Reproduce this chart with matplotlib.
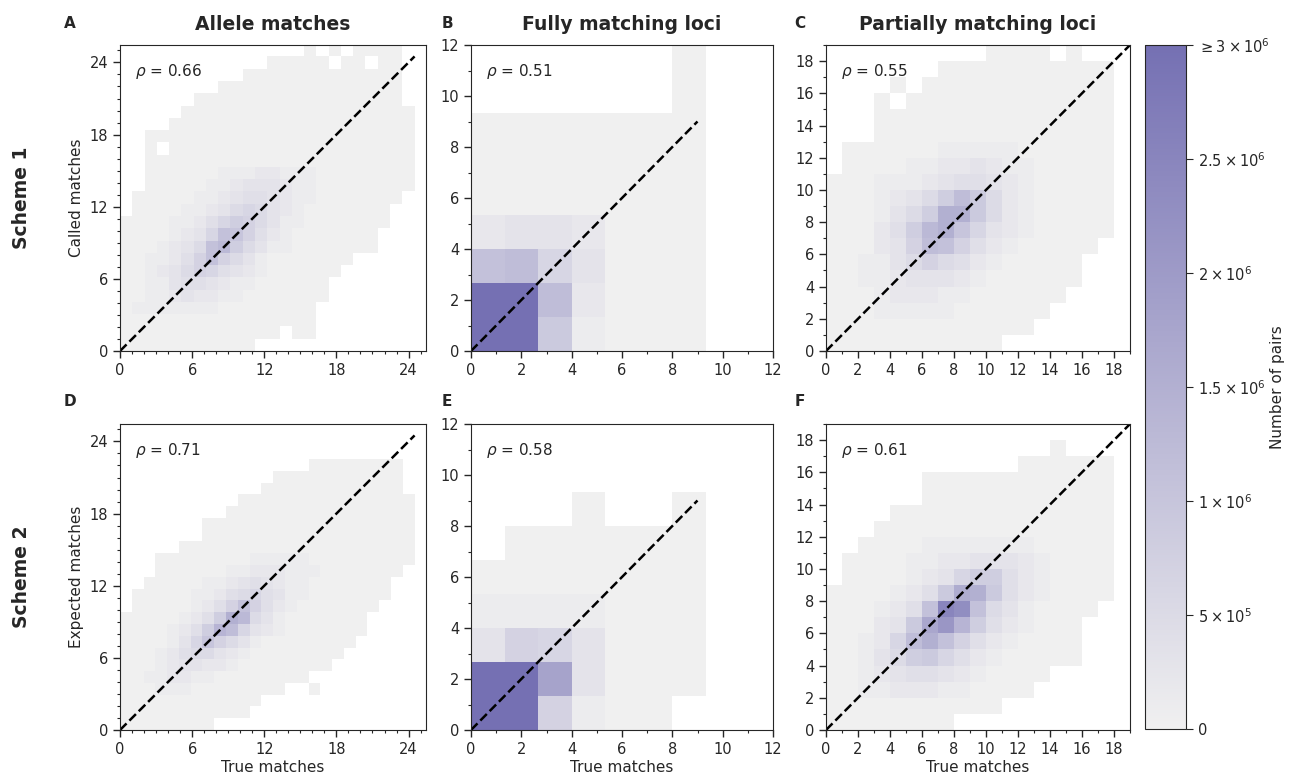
import numpy as np
import matplotlib
matplotlib.use("Agg")
import matplotlib.pyplot as plt
from matplotlib.colors import LinearSegmentedColormap, Normalize
from matplotlib.cm import ScalarMappable
from matplotlib.ticker import MultipleLocator

# cell codes (top row first): '.' = no pairs, '0' = ~0,
# '1'-'9' = n x 1e5, 'a'-'z' = (10 + n) x 1e5  (anything >= 'u' saturates)
allele_s1 = [
    "...............0.0.0000.",
    "............00000.00.00.",
    "..........0000000000000.",
    "........000000000000000.",
    "......00000000000000000.",
    ".....0000000000000000000",
    "....00000000000000000000",
    "..0000000000000000000000",
    "..0.00000000000000000000",
    "..0000000000000000000000",
    "..0000001112211100000000",
    "..0000011233321100000000",
    ".0000011234432110000000.",
    ".000011235653210000000..",
    "0000112468753110000000..",
    "00001236ba74210000000...",
    "0001235bd853110000000...",
    "0011247b75310000000.....",
    "001235764321000000......",
    "00113443211000000.......",
    "00112322110000000.......",
    "0111111100000000........",
    "0000000000000000........",
    "0000000000000.00........",
    "00000000000.............",
]

allele_s2 = [
    "................00000000.",
    ".............00000000000.",
    "............000000000000.",
    "..........000000000000000",
    ".........0000000000000000",
    ".......000000000000000000",
    ".......000000000000000000",
    ".....00000000000000000000",
    "...0000000011111000000000",
    "...000000112221110000000.",
    "..000001123432110000000..",
    ".0000011245643110000000..",
    ".000001247b74210000000...",
    "000001248fd5310000000....",
    "00001248ec63210000000....",
    "0000136a753100000000.....",
    "0001245532100000000......",
    "000123322100000000.......",
    "0011221100000000.........",
    "00011100000000..0........",
    "000000000000.............",
    "00000000000..............",
    "00000000.................",
]

full_s1 = [
    "......0",
    "......0",
    "0000000",
    "0000000",
    "0000000",
    "2332000",
    "bc63000",
    "zzc2000",
    "zz91000",
]

full_s2 = [
    ".......",
    ".......",
    "...0..0",
    ".000000",
    "0000000",
    "1111000",
    "3763000",
    "zzi3000",
    "zz7100.",
]

partial_s1 = [
    "..........0000.0..",
    ".......00000000000",
    "....0.000000000000",
    "...0.0000000000000",
    "...000000000000000",
    "...000000000000000",
    ".00000011111000000",
    ".00001122321100000",
    "000111234432100000",
    "00012358c952100000",
    "0001358ff952100000",
    "000248dfa632100000",
    "000237cb742100000.",
    "0011357542100000..",
    "0011233321000000..",
    "000122211000000...",
    "00011111000000....",
    "0000000000000.....",
    "00000000000.......",
]

partial_s2 = [
    "..................",
    "..............0...",
    "............000000",
    "......000000000000",
    "......000000000000",
    "....00000000000000",
    "...000000000000000",
    "..0000111111100000",
    ".00001122333210000",
    ".00001236884210000",
    "00001249gf94210000",
    "000124bpnb5310000.",
    "000239hle8421000..",
    "00126cfb74210000..",
    "0013589642100000..",
    "00123443210000....",
    "0011222110000.....",
    "00000000000.......",
    "00000000..........",
]

rho = [0.66, 0.51, 0.55, 0.71, 0.58, 0.61]
col_titles = ["Allele matches", "Fully matching loci", "Partially matching loci"]
row_titles = ["Scheme 1", "Scheme 2"]
y_labels = ["Called matches", "Expected matches"]
panel_letters = ["A", "B", "C", "D", "E", "F"]
cbar_ticks = [0, 5e5, 1e6, 1.5e6, 2e6, 2.5e6, 3e6]
cbar_ticklabels = ["0", r"$5\times10^{5}$", r"$1\times10^{6}$", r"$1.5\times10^{6}$",
                   r"$2\times10^{6}$", r"$2.5\times10^{6}$", r"$\geq 3\times10^{6}$"]


def decode(rows):
    width = max(len(r) for r in rows)
    grid = []
    for r in rows[::-1]:
        r = r.ljust(width, ".")
        vals = []
        for ch in r:
            if ch == ".":
                vals.append(np.nan)
            elif ch.isdigit():
                vals.append(int(ch) * 1e5)
            else:
                vals.append((10 + ord(ch) - ord("a")) * 1e5)
        grid.append(vals)
    return np.ma.masked_invalid(np.array(grid))


plt.rcParams["font.family"] = "DejaVu Sans"
plt.rcParams["text.color"] = "#262626"
plt.rcParams["axes.labelcolor"] = "#262626"
plt.rcParams["xtick.color"] = "#262626"
plt.rcParams["ytick.color"] = "#262626"
plt.rcParams["axes.edgecolor"] = "#262626"

cmap = LinearSegmentedColormap.from_list("pairs", ["#f0f0f0", "#7570b3"])
norm = Normalize(vmin=0, vmax=3e6)

W, H = 1303, 782
fig = plt.figure(figsize=(W / 100, H / 100), dpi=100)

col_left = [120, 471, 826]
col_width = [306, 302, 304]
row_top = [45, 424]
ax_h = 306

# histogram bin width per panel, axis limit, diagonal end, tick step per column
bin_w = [[24.5 / 24, 4 / 3, 1.0], [0.98, 4 / 3, 1.0]]
lims = [25.45, 12, 19]
diag_end = [24.5, 9, 19]
major = [6, 2, 2]

grids = [[allele_s1, full_s1, partial_s1], [allele_s2, full_s2, partial_s2]]

for r in range(2):
    for c in range(3):
        ax = fig.add_axes([col_left[c] / W, 1 - (row_top[r] + ax_h) / H,
                           col_width[c] / W, ax_h / H])
        z = decode(grids[r][c])
        ny, nx = z.shape
        xe = np.arange(nx + 1) * bin_w[r][c]
        ye = np.arange(ny + 1) * bin_w[r][c]
        ax.pcolormesh(xe, ye, z, cmap=cmap, norm=norm)
        ax.plot([0, diag_end[c]], [0, diag_end[c]], ls="--", color="black", lw=1.8)
        ax.set_xlim(0, lims[c])
        ax.set_ylim(0, lims[c])
        ax.xaxis.set_major_locator(MultipleLocator(major[c]))
        ax.yaxis.set_major_locator(MultipleLocator(major[c]))
        ax.xaxis.set_minor_locator(MultipleLocator(1))
        ax.yaxis.set_minor_locator(MultipleLocator(1))
        ax.tick_params(which="major", length=5, width=1, labelsize=10.5)
        ax.tick_params(which="minor", length=2.5, width=0.8)
        ax.text(0.05, 0.915, r"$\rho$ = %.2f" % rho[3 * r + c], transform=ax.transAxes,
                fontsize=11, va="center")
        if c == 0:
            ax.set_ylabel(y_labels[r], fontsize=11, labelpad=4)
        if r == 1:
            ax.set_xlabel("True matches", fontsize=11, labelpad=2)
        if r == 0:
            ax.set_title(col_titles[c], fontsize=13.5, fontweight="bold", pad=11)
        lx = [70, 447, 800][c]
        ly = [24, 402][r]
        fig.text(lx / W, 1 - ly / H, panel_letters[3 * r + c], fontsize=11,
                 fontweight="bold", ha="center", va="center")

for r in range(2):
    fig.text(22 / W, 1 - (row_top[r] + ax_h / 2) / H, row_titles[r], fontsize=13.5,
             fontweight="bold", rotation=90, ha="center", va="center")

cax = fig.add_axes([1145 / W, 1 - 729 / H, 41 / W, 684 / H])
cb = fig.colorbar(ScalarMappable(norm=norm, cmap=cmap), cax=cax)
cb.set_ticks(cbar_ticks)
cb.set_ticklabels(cbar_ticklabels)
cb.ax.tick_params(labelsize=10.5, length=5)
cb.outline.set_edgecolor("#262626")
cb.set_label("Number of pairs", fontsize=11)
cb.ax.yaxis.set_label_coords(3.05, 0.5)

fig.savefig("out.png", dpi=100)
